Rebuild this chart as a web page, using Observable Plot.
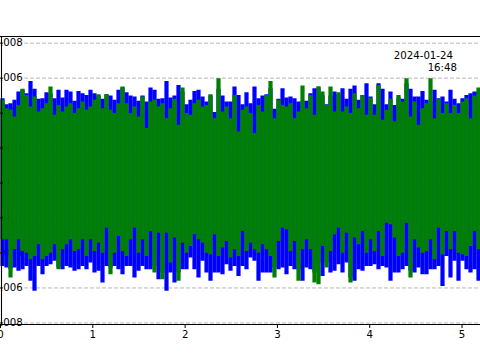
<!DOCTYPE html>
<html><head><meta charset="utf-8">
<script src="https://cdn.jsdelivr.net/npm/d3@7"></script>
<script src="https://cdn.jsdelivr.net/npm/@observablehq/plot@0.6"></script>
<style>body{margin:0;background:#fff;} #chart{width:480px;height:360px;overflow:hidden;}</style>
</head><body><div id="chart"></div>
<script>
// values in thousandths (×1e-3), one envelope value per time bin
const unit = 1e-3;
const blueMax = [4.82,4.48,4.54,4.73,5.20,5.30,5.11,5.81,5.36,4.79,
 4.82,5.17,5.11,4.82,5.30,4.86,5.30,5.20,4.67,5.24,
 5.11,5.01,5.30,5.11,4.98,4.79,5.05,4.98,4.73,5.30,
 5.43,5.17,4.98,4.92,4.67,4.98,4.63,5.43,5.30,4.79,
 4.82,5.81,4.86,4.98,5.58,5.20,4.48,4.73,5.24,5.30,
 4.92,4.63,4.98,4.03,5.36,4.98,4.63,4.63,5.49,5.01,
 4.48,5.17,4.54,5.49,4.82,4.98,5.05,5.39,4.22,4.79,
 5.39,4.86,4.92,4.82,4.63,4.67,4.67,5.11,5.39,5.43,
 4.98,4.48,4.98,5.20,5.05,5.39,4.79,5.36,5.55,4.73,
 5.01,5.68,4.92,4.48,5.68,5.36,4.48,5.20,4.44,4.86,
 4.79,5.68,5.36,4.92,4.92,5.24,4.73,4.63,5.30,4.82,
 4.92,4.63,5.30,4.79,4.54,4.82,5.01,5.11,5.20,5.20];
const blueMin = [-4.77,-4.86,-4.96,-4.86,-5.05,-4.96,-4.77,-5.62,-6.19,-4.77,
 -5.24,-4.77,-4.67,-4.48,-4.86,-4.96,-4.77,-4.86,-5.05,-4.96,
 -4.77,-4.96,-4.58,-5.15,-5.05,-5.72,-4.77,-4.86,-4.77,-4.96,
 -5.24,-4.77,-4.77,-5.43,-5.05,-4.77,-4.96,-4.96,-4.77,-5.53,
 -5.15,-6.19,-5.15,-5.72,-5.15,-4.96,-4.96,-4.29,-4.96,-5.43,
 -4.48,-5.15,-5.62,-5.15,-5.15,-5.24,-4.67,-5.05,-4.77,-5.34,
 -4.77,-4.96,-4.29,-4.48,-5.62,-5.15,-5.15,-5.15,-4.86,-4.96,
 -4.86,-5.24,-4.77,-4.96,-4.96,-5.62,-4.86,-4.96,-5.15,-4.58,
 -5.34,-4.58,-5.15,-5.05,-4.67,-5.15,-4.58,-5.43,-5.62,-4.96,
 -5.05,-4.77,-4.77,-4.67,-4.96,-4.77,-4.86,-5.62,-5.15,-5.15,
 -4.96,-4.77,-5.05,-5.15,-4.86,-5.24,-5.24,-4.96,-4.96,-4.77,
 -5.91,-4.20,-5.43,-4.48,-5.62,-4.48,-4.96,-5.15,-4.96,-5.62];
const greenMax = [4.73,4.25,4.16,3.78,4.44,5.36,5.01,4.35,4.92,4.06,
 4.25,4.54,5.49,3.87,4.44,4.06,4.35,4.54,3.97,4.25,
 4.63,4.16,4.35,4.73,5.05,4.25,5.05,4.16,3.97,4.54,
 5.49,4.54,3.97,4.35,3.78,4.92,3.12,4.63,4.73,4.35,
 4.54,3.68,4.25,4.79,3.30,5.43,3.97,3.87,4.54,4.73,
 4.35,4.44,5.05,3.68,5.96,4.06,4.35,3.68,5.01,2.92,
 4.16,4.35,3.97,2.83,4.44,4.06,5.01,5.81,3.68,4.73,
 4.44,4.35,4.54,3.68,4.06,5.55,4.25,5.01,3.87,5.51,
 5.20,4.44,5.49,4.06,5.17,4.06,4.35,3.97,5.11,4.25,
 5.01,3.87,4.86,3.87,5.58,3.59,4.16,4.79,3.50,5.01,
 4.63,5.96,3.78,4.63,3.30,4.25,4.54,5.96,3.68,4.79,
 3.97,4.54,3.97,4.44,3.97,4.63,4.82,3.68,4.98,5.43];
const greenMin = [-3.25,-3.25,-5.43,-3.82,-3.25,-3.91,-4.01,-4.39,-4.20,-3.53,
 -4.39,-4.20,-4.01,-3.53,-4.96,-3.82,-3.53,-3.25,-3.91,-3.82,
 -3.25,-4.20,-3.25,-3.91,-3.44,-4.01,-2.58,-5.24,-4.01,-3.06,
 -3.91,-4.20,-3.25,-2.58,-4.01,-3.25,-4.20,-2.77,-5.15,-2.87,
 -5.53,-2.87,-4.58,-3.15,-5.62,-3.44,-4.01,-3.63,-2.96,-3.25,
 -3.44,-4.01,-4.10,-2.96,-4.20,-3.72,-3.34,-4.29,-3.82,-4.20,
 -2.77,-3.91,-3.44,-3.82,-4.01,-3.53,-3.82,-4.20,-5.43,-3.34,
 -2.58,-2.68,-3.91,-3.34,-5.62,-3.82,-3.25,-3.82,-5.72,-5.81,
 -3.63,-4.86,-3.91,-2.96,-2.58,-4.01,-2.87,-5.72,-3.15,-3.53,
 -2.77,-4.01,-3.25,-3.91,-2.77,-4.20,-2.30,-2.39,-3.15,-4.20,
 -4.01,-2.30,-5.43,-3.25,-3.72,-4.01,-3.91,-3.25,-4.39,-2.58,
 -4.10,-2.77,-3.82,-2.77,-4.01,-4.10,-4.20,-3.63,-2.77,-3.82];

const xTicks = [0, 1, 2, 3, 4, 5];
const yTicks = [-0.008, -0.006, -0.004, -0.002, 0, 0.002, 0.004, 0.006, 0.008];
const xDomain = [0, 5.2];
const yDomain = [-0.00809, 0.00838];
const stamp = ["2024-01-24", "16:48"];

const n = blueMax.length;
const dt = (xDomain[1] - xDomain[0]) / n;
const rows = blueMax.map((_, i) => ({
  t: xDomain[0] + (i + 0.5) * dt,
  bHi: blueMax[i] * unit, bLo: blueMin[i] * unit,
  gHi: greenMax[i] * unit, gLo: greenMin[i] * unit
}));
const fmt = d3.format(".3f");
const W = 480;
const tickLen = (xDomain[1] - xDomain[0]) * 3 / W;

const chart = Plot.plot({
  width: 480, height: 360,
  marginLeft: 0, marginRight: 0, marginTop: 36, marginBottom: 36,
  style: {fontFamily: "DejaVu Sans", fontSize: "10.2px", background: "white", color: "black"},
  x: {domain: xDomain},
  y: {domain: yDomain, axis: null},
  marks: [
    Plot.gridY(yTicks, {stroke: "#b8b8b8", strokeOpacity: 1, strokeWidth: 1, strokeDasharray: "4,2"}),
    Plot.text(yTicks, {y: d => d, frameAnchor: "left", text: d => fmt(d), textAnchor: "end", dx: 22.3,
      fill: "black", stroke: "white", strokeWidth: 4, fontSize: 10.2}),
    Plot.ruleX(rows, {x: "t", y1: "bLo", y2: "bHi", stroke: "#0000ff", strokeWidth: 4.2}),
    Plot.ruleX(rows, {x: "t", y1: "gLo", y2: "gHi", stroke: "#008000", strokeWidth: 4.2}),
    Plot.ruleY(yTicks, {y: d => d, x1: xDomain[0], x2: xDomain[0] + tickLen, stroke: "black", strokeWidth: 1}),
    Plot.ruleY(yDomain, {stroke: "black", strokeWidth: 1.1}),
    Plot.ruleX([xDomain[0]], {stroke: "black", strokeWidth: 1.1, dx: 1}),
    Plot.axisX({ticks: xTicks, tickSize: 4, tickPadding: 2, tickFormat: d => String(d), fontSize: 10.2, stroke: "black", label: null}),
    Plot.text([stamp[0]], {frameAnchor: "top-right", text: d => d, textAnchor: "end", lineAnchor: "bottom", dx: -27.5, dy: 22, fill: "black", fontSize: 10.2}),
    Plot.text([stamp[1]], {frameAnchor: "top-right", text: d => d, textAnchor: "end", lineAnchor: "bottom", dx: -23.5, dy: 34, fill: "black", fontSize: 10.2})
  ]
});
document.getElementById("chart").appendChild(chart);
</script>
</body></html>
